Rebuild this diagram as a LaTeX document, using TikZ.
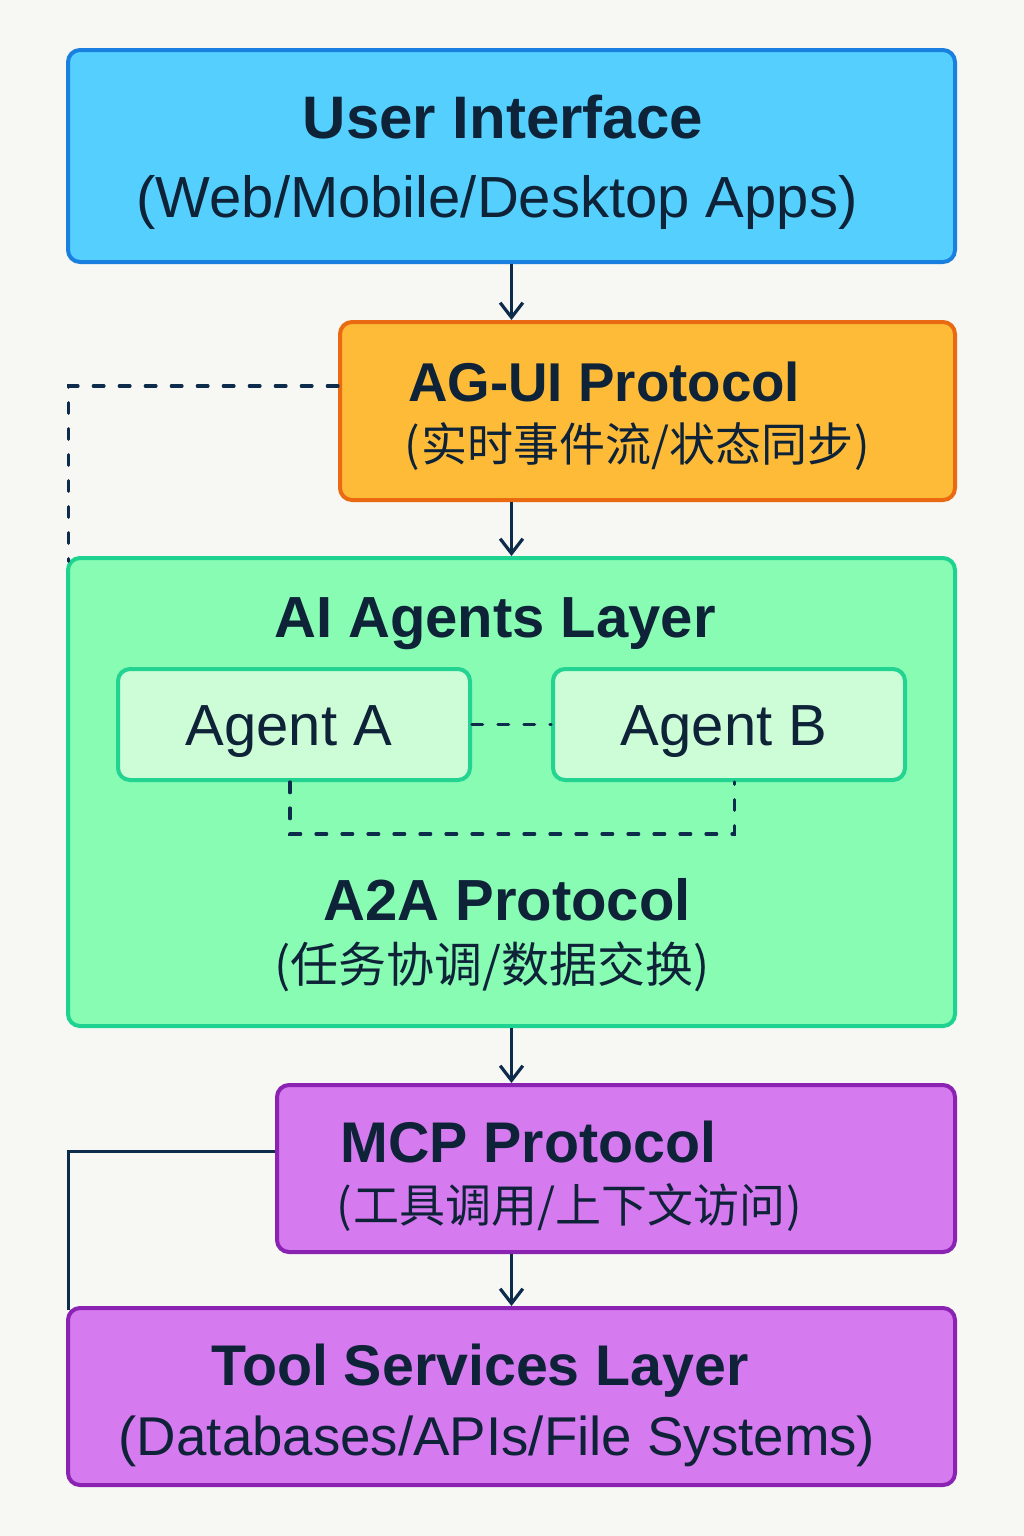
\documentclass[tikz,border=0pt]{standalone}
\usepackage{fontspec}
\setmainfont{Liberation Sans}
\newfontfamily\cjk{Noto Sans CJK SC}
\usetikzlibrary{arrows.meta}
\definecolor{bg}{HTML}{F7F7F4}
\definecolor{ink}{HTML}{0E2238}
\definecolor{ln}{HTML}{0D2B4A}
\definecolor{uifill}{HTML}{55D0FE}
\definecolor{uidraw}{HTML}{1A80E0}
\definecolor{agfill}{HTML}{FDBB38}
\definecolor{agdraw}{HTML}{EA6A12}
\definecolor{aifill}{HTML}{88FCB3}
\definecolor{aidraw}{HTML}{1DD38F}
\definecolor{agentfill}{HTML}{CCFDD6}
\definecolor{agentdraw}{HTML}{22D391}
\definecolor{mcpfill}{HTML}{D67AF0}
\definecolor{mcpdraw}{HTML}{8A22B2}
\tikzset{
  box/.style={draw, rounded corners=9pt, line width=3pt, inner sep=0pt},
  txt/.style={inner sep=0pt, text=ink},
  connector/.style={draw=ln, line width=2.4pt},
  arr/.style={connector, -{Straight Barb[length=11pt,width=17pt,line width=2.4pt]}},
  dashline/.style={connector, line cap=round, dash pattern=on 8pt off 11.5pt},
  ttl/.style={txt, font=\bfseries\fontsize{#1}{#1}\selectfont},
  sub/.style={txt, font=\fontsize{#1}{#1}\selectfont},
  zh/.style={txt, font=\cjk\fontsize{#1}{#1}\selectfont}
}
\begin{document}
\begin{tikzpicture}[x=0.75pt,y=-0.75pt]
\path[use as bounding box, fill=bg] (0,0) rectangle (1024,1536);

% boxes
\node[box, fill=uifill, draw=uidraw, minimum width=665.25pt, minimum height=159pt] (ui) at (511.5,156) {};
\node[box, fill=agfill, draw=agdraw, minimum width=461.25pt, minimum height=133.5pt] (agui) at (647.5,411) {};
\node[box, fill=aifill, draw=aidraw, minimum width=665.25pt, minimum height=351pt] (ai) at (511.5,792) {};
\node[box, fill=agentfill, draw=agentdraw, minimum width=264pt, minimum height=83.25pt] (agA) at (294,724.5) {};
\node[box, fill=agentfill, draw=agentdraw, minimum width=264pt, minimum height=83.25pt] (agB) at (729,724.5) {};
\node[box, fill=mcpfill, draw=mcpdraw, minimum width=508.5pt, minimum height=125.25pt] (mcp) at (616,1168.5) {};
\node[box, fill=mcpfill, draw=mcpdraw, minimum width=665.25pt, minimum height=132.75pt] (tool) at (511.5,1396.5) {};

% texts
\node[ttl=45pt, anchor=base] (uit) at (503,138) {User Interface};
\node[sub=43.5pt, anchor=base] (uis) at (497,217) {(Web/Mobile/Desktop Apps)};
\node[ttl=41pt, anchor=base west] (agt) at (408,401) {AG-UI Protocol};
\node[zh=34.5pt, anchor=base west] (ags) at (404,461) {(\kern1pt实时事件流/状态同步\kern1pt)};
\node[ttl=43.5pt, anchor=base] (ait) at (495,637) {AI Agents Layer};
\node[sub=43.5pt, anchor=base] (aat) at (289,745) {Agent A};
\node[sub=43.5pt, anchor=base] (abt) at (724,745) {Agent B};
\node[ttl=43.5pt, anchor=base] (a2t) at (507,920) {A2A Protocol};
\node[zh=36pt, anchor=base] (a2s) at (492,982) {(任务协调/数据交换)};
\node[ttl=43pt, anchor=base west] (mct) at (340,1162) {MCP Protocol};
\node[zh=34.5pt, anchor=base west] (mcs) at (336,1222) {(\kern1pt工具调用/上下文访问\kern1pt)};
\node[ttl=43pt, anchor=base] (tlt) at (480,1385) {Tool Services Layer};
\node[sub=41pt, anchor=base] (tls) at (497,1455) {(Databases/APIs/File Systems)};

% connectors
\draw[arr] (ui.south) -- (ui.south |- agui.north);
\draw[arr] (agui.south -| ai.north) -- (ai.north);
\draw[arr] (ai.south) -- (ai.south |- mcp.north);
\draw[arr] (mcp.south -| tool.north) -- (tool.north);

\draw[dashline] ([yshift=18.75pt]agui.west) -| ([xshift=2pt,yshift=-4pt]ai.north west);
\draw[dashline] (agA.east) -- (agB.west);
\draw[dashline] ([xshift=-3pt]agA.south) -- ([xshift=-3pt,yshift=-39pt]agA.south) -| ([xshift=4pt]agB.south);
\draw[connector] ([yshift=13pt]mcp.west) -| ([xshift=2pt,yshift=-3pt]tool.north west);
\end{tikzpicture}
\end{document}
